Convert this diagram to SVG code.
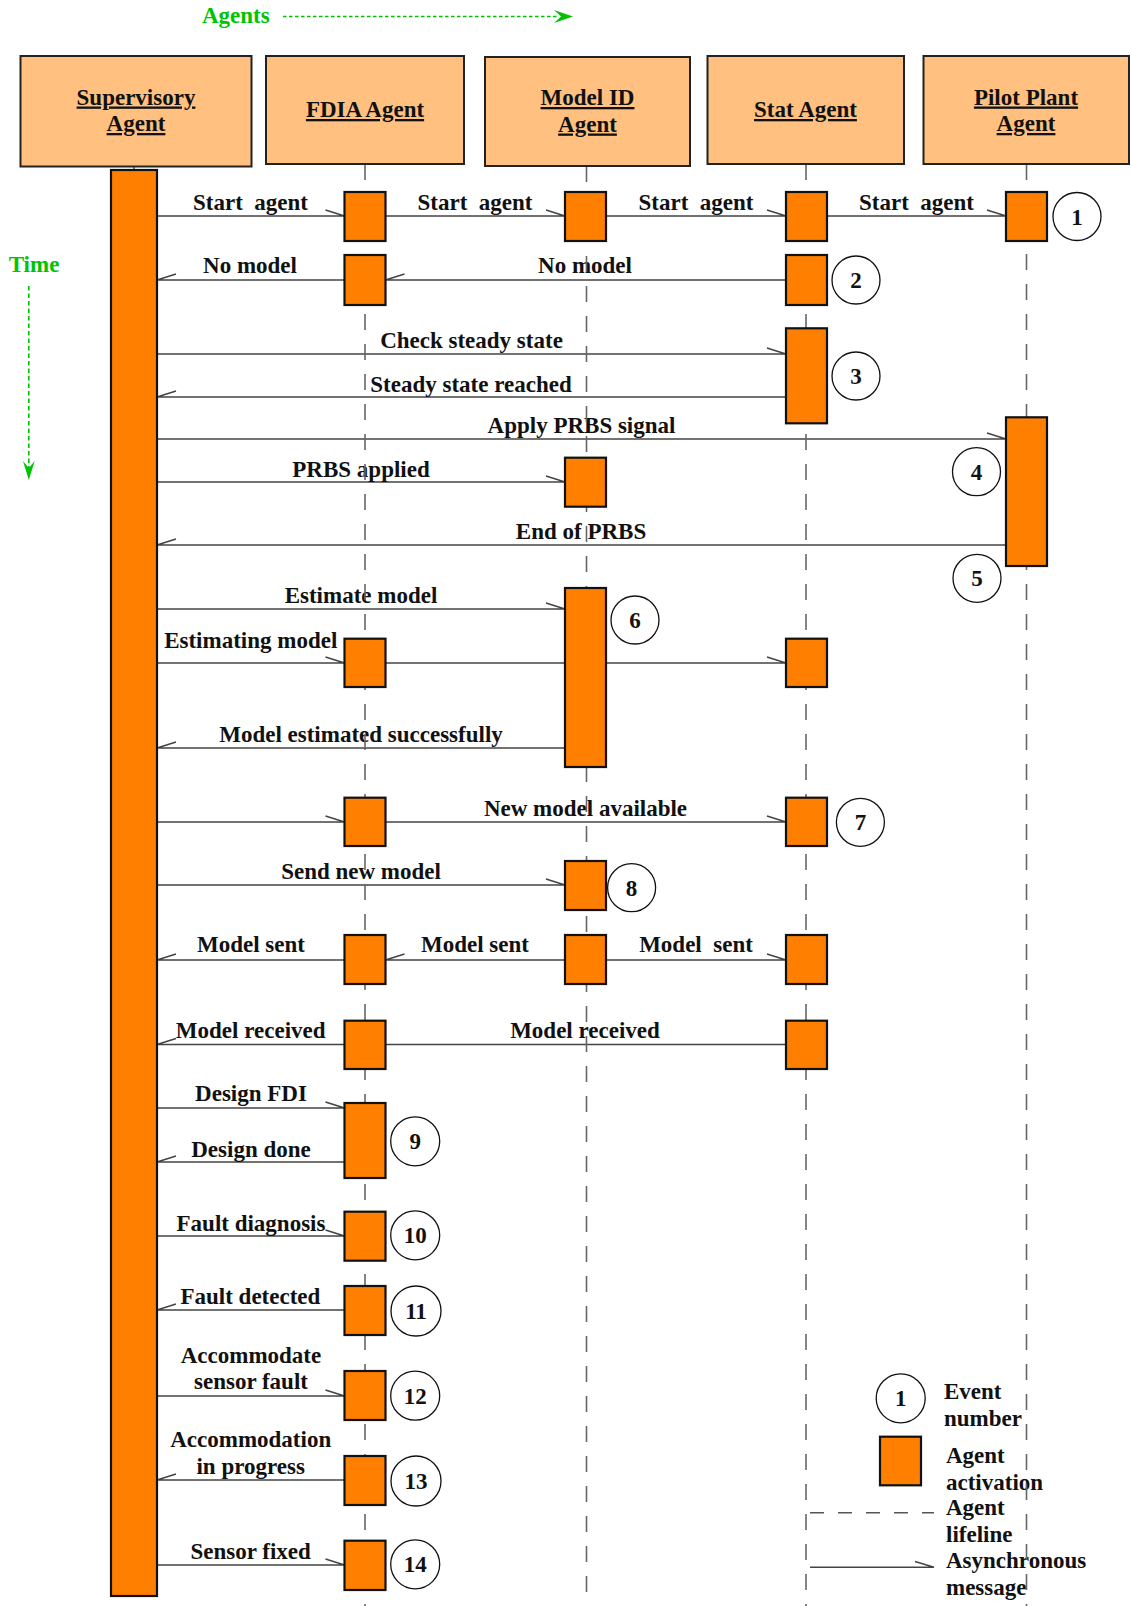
<svg xmlns="http://www.w3.org/2000/svg" width="1131" height="1606" viewBox="0 0 1131 1606">
  <defs>
    <style>
      text { font-family: "Liberation Serif", "Times New Roman", serif; font-weight: bold; font-size: 23px; fill: #111; }
      .lbl { text-anchor: middle; }
      .head { text-anchor: middle; text-decoration: underline; }
      .green { fill: #00c400; }
      .hdr { fill: #ffc080; stroke: #222; stroke-width: 2; }
      .act { fill: #ff8000; stroke: #111; stroke-width: 2.2; }
      .life { stroke: #666; stroke-width: 1.6; stroke-dasharray: 16 14; fill: none; }
      .msg { stroke: #444; stroke-width: 1.5; fill: none; }
      .evt { fill: #fff; stroke: #111; stroke-width: 1.3; }
    </style>
  </defs>
  <rect width="1131" height="1606" fill="#fff"/>

  <!-- axis hints -->
  <g id="axis-agents">
    <text class="green" x="202" y="23">Agents</text>
    <line x1="283" y1="16.5" x2="558" y2="16.5" stroke="#00c400" stroke-width="1.6" stroke-dasharray="3.5 2.5"/>
    <polygon points="554,10 573,16.5 554,23 561,16.5" fill="#00c400"/>
  </g>
  <g id="axis-time">
    <text class="green lbl" x="34" y="271.7">Time</text>
    <line x1="28.8" y1="286" x2="28.8" y2="468" stroke="#00c400" stroke-width="1.6" stroke-dasharray="4.5 3"/>
    <polygon points="23,461 28.8,480 34.7,461 28.8,468" fill="#00c400"/>
  </g>

  <!-- messages -->
  <g id="connectors">
    <path class="msg" d="M157 216H344.5M325.5 210L344.5 216 M385.5 216H565M546 210L565 216 M606 216H786M767 210L786 216 M827 216H1006M987 210L1006 216"/>
    <path class="msg" d="M344.5 280H157M176 274L157 280 M786 280H385.5M404.5 274L385.5 280"/>
    <path class="msg" d="M157 354H786M767 348L786 354"/>
    <path class="msg" d="M786 397H157M176 391L157 397"/>
    <path class="msg" d="M157 439H1006M987 433L1006 439"/>
    <path class="msg" d="M157 482H565M546 476L565 482"/>
    <path class="msg" d="M1006 545H157M176 539L157 545"/>
    <path class="msg" d="M157 609H565M546 603L565 609"/>
    <path class="msg" d="M157 663H344.5M325.5 657L344.5 663 M385.5 663H565 M606 663H786M767 657L786 663"/>
    <path class="msg" d="M565 748H157M176 742L157 748"/>
    <path class="msg" d="M157 822H344.5M325.5 816L344.5 822 M385.5 822H786M767 816L786 822"/>
    <path class="msg" d="M157 885H565M546 879L565 885"/>
    <path class="msg" d="M344.5 960H157M176 954L157 960 M565 960H385.5M404.5 954L385.5 960 M606 960H786M767 954L786 960"/>
    <path class="msg" d="M344.5 1044.5H157M176 1038.5L157 1044.5 M786 1044.5H385.5"/>
    <path class="msg" d="M157 1108H344.5M325.5 1102L344.5 1108"/>
    <path class="msg" d="M344.5 1162H157M176 1156L157 1162"/>
    <path class="msg" d="M157 1236H344.5M325.5 1230L344.5 1236"/>
    <path class="msg" d="M344.5 1310H157M176 1304L157 1310"/>
    <path class="msg" d="M157 1396H344.5M325.5 1390L344.5 1396"/>
    <path class="msg" d="M344.5 1480H157M176 1474L157 1480"/>
    <path class="msg" d="M157 1565H344.5M325.5 1559L344.5 1565"/>

    <g id="message-labels">
      <text class="lbl" x="250.5" y="210">Start&#160; agent</text>
      <text class="lbl" x="475" y="210">Start&#160; agent</text>
      <text class="lbl" x="696" y="210">Start&#160; agent</text>
      <text class="lbl" x="916.5" y="210">Start&#160; agent</text>
      <text class="lbl" x="250" y="273">No model</text>
      <text class="lbl" x="585" y="273">No model</text>
      <text class="lbl" x="471.5" y="348">Check steady state</text>
      <text class="lbl" x="471" y="391.7">Steady state reached</text>
      <text class="lbl" x="581.5" y="433">Apply PRBS signal</text>
      <text class="lbl" x="361" y="476.7">PRBS applied</text>
      <text class="lbl" x="581" y="538.5">End of PRBS</text>
      <text class="lbl" x="361" y="602.7">Estimate model</text>
      <text class="lbl" x="250.7" y="648.3">Estimating model</text>
      <text class="lbl" x="361" y="741.7">Model estimated successfully</text>
      <text class="lbl" x="585.5" y="815.7">New model available</text>
      <text class="lbl" x="361" y="879.3">Send new model</text>
      <text class="lbl" x="251" y="951.7">Model sent</text>
      <text class="lbl" x="475" y="951.7">Model sent</text>
      <text class="lbl" x="696" y="951.7">Model&#160; sent</text>
      <text class="lbl" x="250.7" y="1038.3">Model received</text>
      <text class="lbl" x="585" y="1038.3">Model received</text>
      <text class="lbl" x="251" y="1101">Design FDI</text>
      <text class="lbl" x="251" y="1156.7">Design done</text>
      <text class="lbl" x="251" y="1231">Fault diagnosis</text>
      <text class="lbl" x="250.4" y="1304.3">Fault detected</text>
      <text class="lbl" x="251" y="1362.7">Accommodate</text>
      <text class="lbl" x="251" y="1389.3">sensor fault</text>
      <text class="lbl" x="250.7" y="1447.3">Accommodation</text>
      <text class="lbl" x="250.7" y="1474">in progress</text>
      <text class="lbl" x="250.7" y="1559.3">Sensor fixed</text>
    </g>
  </g>

  <!-- legend -->
  <g id="legend">
    <circle class="evt" cx="900.7" cy="1398.3" r="24.5"/>
    <text class="lbl" x="900.7" y="1406.3">1</text>
    <text x="944" y="1399">Event</text>
    <text x="944" y="1425.7">number</text>
    <rect class="act" x="880" y="1436.7" width="41" height="48.6"/>
    <text x="946" y="1462.7">Agent</text>
    <text x="946" y="1490">activation</text>
    <line x1="810" y1="1512.7" x2="934" y2="1512.7" stroke="#555" stroke-width="1.5" stroke-dasharray="14 14"/>
    <text x="946" y="1515">Agent</text>
    <text x="946" y="1541.7">lifeline</text>
    <path class="msg" d="M810 1567.3H934M915 1561.5L934 1567.3"/>
    <text x="946" y="1568.3">Asynchronous</text>
    <text x="946" y="1595">message</text>
  </g>

  <!-- agents: lifeline, header and activations -->
  <g id="agent-supervisory">
    <line x1="134" y1="166" x2="134" y2="172" stroke="#666" stroke-width="1.6"/>
    <rect class="hdr" x="20.5" y="56" width="231" height="110.5"/>
    <text class="head" x="136" y="104.5">Supervisory</text>
    <text class="head" x="136" y="131">Agent</text>
    <rect class="act" x="111" y="170" width="46" height="1426"/>
  </g>

  <g id="agent-fdia">
    <line class="life" x1="365" y1="164" x2="365" y2="1606"/>
    <rect class="hdr" x="266" y="56" width="198" height="108"/>
    <text class="head" x="365" y="117">FDIA Agent</text>
    <rect class="act" x="344.5" y="192" width="41" height="49"/>
    <rect class="act" x="344.5" y="255" width="41" height="50"/>
    <rect class="act" x="344.5" y="638.7" width="41" height="48.3"/>
    <rect class="act" x="344.5" y="797.7" width="41" height="48.3"/>
    <rect class="act" x="344.5" y="935" width="41" height="49"/>
    <rect class="act" x="344.5" y="1020.7" width="41" height="48.3"/>
    <rect class="act" x="344.5" y="1103" width="41" height="75"/>
    <rect class="act" x="344.5" y="1211.7" width="41" height="49"/>
    <rect class="act" x="344.5" y="1286" width="41" height="49"/>
    <rect class="act" x="344.5" y="1371" width="41" height="49"/>
    <rect class="act" x="344.5" y="1456" width="41" height="49"/>
    <rect class="act" x="344.5" y="1540.7" width="41" height="49.3"/>
  </g>

  <g id="agent-model-id">
    <line class="life" x1="586.5" y1="166" x2="586.5" y2="1606"/>
    <rect class="hdr" x="485" y="57" width="205" height="109"/>
    <text class="head" x="587.5" y="105">Model ID</text>
    <text class="head" x="587.5" y="131.5">Agent</text>
    <rect class="act" x="565" y="192" width="41" height="49"/>
    <rect class="act" x="565" y="457.7" width="41" height="49"/>
    <rect class="act" x="565" y="588" width="41" height="179"/>
    <rect class="act" x="565" y="861" width="41" height="49"/>
    <rect class="act" x="565" y="935" width="41" height="49"/>
  </g>

  <g id="agent-stat">
    <line class="life" x1="806" y1="164" x2="806" y2="1606"/>
    <rect class="hdr" x="707.5" y="56" width="196.5" height="108"/>
    <text class="head" x="805.5" y="117">Stat Agent</text>
    <rect class="act" x="786" y="192" width="41" height="49"/>
    <rect class="act" x="786" y="255" width="41" height="50"/>
    <rect class="act" x="786" y="328.3" width="41" height="95"/>
    <rect class="act" x="786" y="638.7" width="41" height="48.3"/>
    <rect class="act" x="786" y="797.7" width="41" height="48.3"/>
    <rect class="act" x="786" y="935" width="41" height="49"/>
    <rect class="act" x="786" y="1020.7" width="41" height="48.3"/>
  </g>

  <g id="agent-pilot-plant">
    <line class="life" x1="1026.5" y1="164" x2="1026.5" y2="1606"/>
    <rect class="hdr" x="923.5" y="56" width="205.5" height="108"/>
    <text class="head" x="1026" y="104.5">Pilot Plant</text>
    <text class="head" x="1026" y="131">Agent</text>
    <rect class="act" x="1006" y="192" width="41" height="49"/>
    <rect class="act" x="1006" y="417.3" width="41" height="148.7"/>
  </g>

  <!-- numbered events -->
  <g id="events">
    <g id="event-1"><circle class="evt" cx="1077" cy="216.5" r="24"/><text class="lbl" x="1077" y="224.5">1</text></g>
    <g id="event-2"><circle class="evt" cx="856" cy="280" r="24"/><text class="lbl" x="856" y="288">2</text></g>
    <g id="event-3"><circle class="evt" cx="856" cy="376" r="24"/><text class="lbl" x="856" y="384">3</text></g>
    <g id="event-4"><circle class="evt" cx="976.5" cy="471.7" r="24"/><text class="lbl" x="976.5" y="479.7">4</text></g>
    <g id="event-5"><circle class="evt" cx="977" cy="578.3" r="24"/><text class="lbl" x="977" y="586.3">5</text></g>
    <g id="event-6"><circle class="evt" cx="635" cy="620" r="24"/><text class="lbl" x="635" y="628">6</text></g>
    <g id="event-7"><circle class="evt" cx="860.4" cy="822.3" r="24"/><text class="lbl" x="860.4" y="830.3">7</text></g>
    <g id="event-8"><circle class="evt" cx="631.6" cy="887.7" r="24"/><text class="lbl" x="631.6" y="895.7">8</text></g>
    <g id="event-9"><circle class="evt" cx="415.2" cy="1141.3" r="24.5"/><text class="lbl" x="415.2" y="1149.3">9</text></g>
    <g id="event-10"><circle class="evt" cx="415.2" cy="1235.3" r="24.5"/><text class="lbl" x="415.2" y="1243.3">10</text></g>
    <g id="event-11"><circle class="evt" cx="416" cy="1311" r="25"/><text class="lbl" x="416" y="1319">11</text></g>
    <g id="event-12"><circle class="evt" cx="415.2" cy="1395.7" r="24.5"/><text class="lbl" x="415.2" y="1403.7">12</text></g>
    <g id="event-13"><circle class="evt" cx="416" cy="1481" r="25"/><text class="lbl" x="416" y="1489">13</text></g>
    <g id="event-14"><circle class="evt" cx="415.2" cy="1564.3" r="24.5"/><text class="lbl" x="415.2" y="1572.3">14</text></g>
  </g>
</svg>
